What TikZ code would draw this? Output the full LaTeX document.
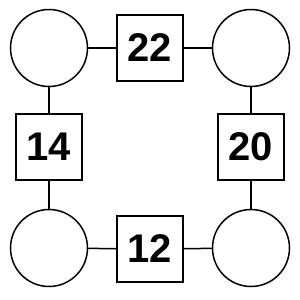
\documentclass[tikz,border=0pt]{standalone}
\usepackage{fontspec}
\setmainfont{Liberation Sans}
\begin{document}
\begin{tikzpicture}[x=1pt,y=-1pt,line width=1.5pt]
	
	% ---- Styles ----
	\tikzset{
		ring/.style={draw, circle, minimum size=77pt, inner sep=0pt},
		box/.style={draw, rectangle, minimum size=66pt, inner sep=0pt,
			font=\fontsize{40}{40}\selectfont\bfseries}
	}
	\useasboundingbox (0,0) rectangle (300,300);
	
	% ---- Corner circles ----
	\foreach \x/\y/\name in {
		49/48/TL,
		251/48/TR,
		49/248/BL,
		251/248/BR}
	{
		\node[ring] (c\name) at (\x,\y) {};
	}
	
	% ---- Boxes with weights ----
	\foreach \x/\y/\name/\label in {
		150/48/T/22,
		49/147/L/14,
		251/147/R/20,
		150/249/B/12}
	{
		\node[box] (b\name) at (\x,\y) {\label};
	}
	
	% ---- Edges ----
	\draw (cTL) -- (bT) -- (cTR);
	\draw (cTL) -- (bL) -- (cBL);
	\draw (cTR) -- (bR) -- (cBR);
	\draw (cBL) -- (bB) -- (cBR);
	
\end{tikzpicture}
\end{document}
